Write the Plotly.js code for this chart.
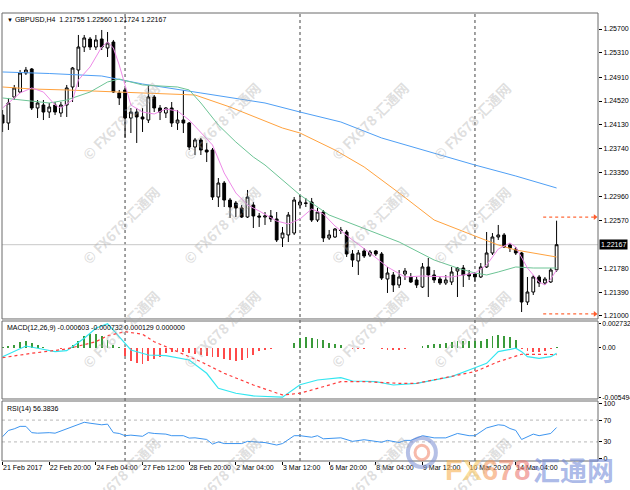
<!DOCTYPE html>
<html><head><meta charset="utf-8">
<script src="https://cdn.plot.ly/plotly-3.0.1.min.js"></script>
<style>html,body{margin:0;padding:0;background:#fff}#chart{width:630px;height:490px}</style>
</head><body><div id="chart"></div>
<script>
// ---- DATA ----
const barIndex = [-21,-20,-19,-18,-17,-16,-15,-14,-13,-12,-11,-10,-9,-8,-7,-6,-5,-4,-3,-2,-1,
  0,1,2,3,4,5,6,7,8,9,10,11,12,13,14,15,16,17,18,19,20,21,22,23,24,25,26,27,28,29,
  30,31,32,33,34,35,36,37,38,39,40,41,42,43,44,45,46,47,48,49,50,51,52,53,54,55,56,57,58,59,
  60,61,62,63,64,65,66,67,68,69,70,71,72,73,74];
const openP = [1.24291,1.24160,1.24586,1.24668,1.24979,1.25045,1.24406,1.24455,1.24340,1.24455,1.24324,1.24455,1.24750,1.25028,1.25405,1.25536,1.25405,1.25536,1.25389,1.25487,1.24652,
  1.24701,1.24242,1.24340,1.24259,1.24209,1.24586,1.24406,1.24324,1.24406,1.24160,1.24209,1.24160,1.23767,1.23882,1.23718,1.23718,1.22948,1.23177,1.22899,1.22850,1.22768,1.22620,1.22817,1.22637,1.22620,1.22637,1.22588,1.22277,1.22326,1.22358,
  1.22817,1.22850,1.22866,1.22571,1.22702,1.22277,1.22293,1.22408,1.22375,1.22015,1.21900,1.22064,1.21998,1.22064,1.22015,1.21605,1.21671,1.21507,1.21687,1.21638,1.21589,1.21474,1.21802,1.21671,1.21605,1.21540,1.21556,1.21736,1.21785,1.21687,
  1.21687,1.21638,1.21802,1.22031,1.22293,1.22326,1.22162,1.22096,1.22031,1.21228,1.21392,1.21638,1.21540,1.21556,1.21755];
const highP = [1.24373,1.24570,1.24783,1.25028,1.25078,1.25061,1.24537,1.24537,1.24488,1.24504,1.24504,1.24783,1.25078,1.25602,1.25602,1.25569,1.25602,1.25684,1.25651,1.25520,1.24701,
  1.24734,1.24406,1.24406,1.24406,1.24783,1.24619,1.24455,1.24422,1.24504,1.24373,1.24701,1.24177,1.23915,1.23915,1.23833,1.23751,1.23259,1.23210,1.22932,1.22883,1.22817,1.23063,1.22866,1.22686,1.22702,1.22735,1.22702,1.22457,1.22702,1.22948,
  1.22981,1.22932,1.22932,1.22768,1.22735,1.22408,1.22440,1.22457,1.22408,1.22080,1.22080,1.22112,1.22080,1.22080,1.22047,1.21802,1.21720,1.21752,1.21785,1.21703,1.21638,1.21867,1.21949,1.21752,1.21638,1.21671,1.21802,1.21802,1.21834,1.21752,
  1.21720,1.21867,1.22375,1.22358,1.22490,1.22358,1.22195,1.22129,1.22047,1.21638,1.21671,1.21671,1.21638,1.21785,1.22560];
const lowP = [1.24013,1.24046,1.24537,1.24652,1.24947,1.24373,1.24242,1.24209,1.24242,1.24291,1.24259,1.24259,1.24504,1.24750,1.25323,1.25356,1.25356,1.25356,1.25241,1.24652,1.24455,
  1.23915,1.23996,1.23833,1.24013,1.24160,1.24340,1.24209,1.24242,1.24095,1.24046,1.23996,1.23718,1.23636,1.23636,1.23521,1.22899,1.22784,1.22784,1.22604,1.22620,1.22604,1.22604,1.22440,1.22457,1.22490,1.22539,1.22211,1.22129,1.22211,1.22326,
  1.22768,1.22784,1.22539,1.22539,1.22211,1.22244,1.22277,1.22342,1.21966,1.21802,1.21671,1.21949,1.21966,1.21982,1.21589,1.21376,1.21392,1.21458,1.21589,1.21540,1.21458,1.21458,1.21310,1.21540,1.21507,1.21507,1.21507,1.21310,1.21474,1.21589,
  1.21556,1.21621,1.21785,1.21998,1.22244,1.22112,1.22047,1.21998,1.21064,1.21179,1.21343,1.21474,1.21507,1.21540,1.21724];
const closeP = [1.24160,1.24488,1.24734,1.24979,1.25028,1.24406,1.24488,1.24340,1.24422,1.24340,1.24455,1.24734,1.25061,1.25405,1.25553,1.25405,1.25520,1.25405,1.25471,1.24668,1.24570,
  1.24242,1.24340,1.24259,1.24226,1.24586,1.24406,1.24340,1.24406,1.24160,1.24209,1.24160,1.23767,1.23882,1.23718,1.23685,1.22948,1.23177,1.22899,1.22784,1.22768,1.22620,1.22948,1.22637,1.22620,1.22637,1.22588,1.22244,1.22358,1.22653,1.22899,
  1.22866,1.22845,1.22571,1.22702,1.22277,1.22326,1.22424,1.22400,1.22015,1.21916,1.22031,1.21982,1.22047,1.22015,1.21621,1.21703,1.21507,1.21638,1.21736,1.21556,1.21507,1.21802,1.21671,1.21589,1.21540,1.21589,1.21720,1.21785,1.21671,1.21654,
  1.21638,1.21802,1.22031,1.22293,1.22326,1.22129,1.22112,1.22031,1.21228,1.21392,1.21638,1.21540,1.21605,1.21752,1.22167];

// moving averages read at sampled bars
const maSlowIdx = [-21,-13,-4,3,13,24,30,37,44,51,60,67,74];
const maSlow    = [1.24996,1.24971,1.24930,1.24799,1.24652,1.24488,1.24340,1.24177,1.23915,1.23718,1.23472,1.23292,1.23096];
const maMidIdx  = [-21,-16,-10,-4,3,12,18,27,30,36,41,47,53,60,64,67,74];
const maMid     = [1.24750,1.24717,1.24701,1.24684,1.24652,1.24619,1.24422,1.24078,1.23996,1.23718,1.23440,1.23014,1.22571,1.22309,1.22162,1.22080,1.21965];
const maFastIdx = [-21,-18,-15,-13,-10,-6,-3,-1,1,3,9,11,13,16,19,22,24,30,35,40,47,53,57,60,62,64,67,70,74];
const maFast    = [1.24570,1.24537,1.24504,1.24488,1.24537,1.24668,1.24832,1.24881,1.24832,1.24783,1.24750,1.24701,1.24488,1.24127,1.23849,1.23603,1.23472,1.22981,1.22653,1.22473,1.22211,1.21916,1.21785,1.21703,1.21671,1.21720,1.21802,1.21785,1.21785];
const maTurboIdx = [-21,-20,-18,-16,-14,-12,-11,-9,-8,-6,-4,-3,-2,-1,0,1,3,5,7,9,11,13,15,17,19,21,23,26,28,30,32,34,36,39,42,45,48,51,56,60,62,64,66,67,69,71,72,73,74];
const maTurbo    = [1.24406,1.24488,1.24652,1.24734,1.24668,1.24455,1.24406,1.24537,1.24865,1.25078,1.25405,1.25487,1.25389,1.25110,1.24783,1.24455,1.24340,1.24308,1.24390,1.24357,1.24209,1.24013,1.23800,1.23341,1.23014,1.22817,1.22719,1.22555,1.22506,1.22588,1.22752,1.22670,1.22473,1.22244,1.22031,1.21802,1.21638,1.21654,1.21638,1.21703,1.21834,1.22096,1.22195,1.22129,1.21785,1.21556,1.21507,1.21605,1.21752];

// MACD(12,26,9)
const macdHist = [0.0001,0.00026,0.00037,0.00067,0.00082,0.00056,0.0003,0.00011,0.00003,-0.00005,-0.00008,0.00004,0.0003,0.00082,0.0013,0.00156,0.00156,0.0013,0.00093,0.00037,0.00011,
  -0.00093,-0.00141,-0.00167,-0.00179,-0.00149,-0.00123,-0.001,-0.00056,-0.00045,-0.00037,-0.00045,-0.00056,-0.00067,-0.00082,-0.00093,-0.001,-0.00104,-0.00119,-0.0013,-0.00141,-0.0013,-0.00112,-0.00074,-0.00037,-0.00019,-0.00007,-0.00004,-0.00003,0.00002,0.00056,
  0.00112,0.00119,0.00112,0.00104,0.00093,0.00056,0.00048,0.0003,0.00005,-0.00007,-0.00008,-0.0001,-0.00003,-0.00005,-0.00011,-0.00019,-0.00022,-0.00019,-0.00008,-0.00004,0.00003,0.00026,0.00037,0.00045,0.00048,0.00056,0.00067,0.00074,0.00082,0.00074,
  0.00074,0.00082,0.00104,0.0013,0.00141,0.0013,0.00119,0.00093,-0.00007,-0.0003,-0.00045,-0.00045,-0.0003,-0.00015,0.000129];
const macdIdx  = [-21,-17,-15,-12,-10,-7,-5,-3,-2,0,1,4,7,11,14,16,19,22,27,30,33,37,39,43,46,50,53,56,60,62,64,67,68,69,71,73,74];
const macdLine = [-0.00097,0.00022,-0.00003,-0.00041,-0.0003,0.00108,0.0022,0.0027,0.002,0.00052,-0.00022,-0.00078,-0.00086,-0.00134,-0.00282,-0.0045,-0.00505,-0.00535,-0.00549,-0.0041,-0.00357,-0.00331,-0.00368,-0.00376,-0.00413,-0.00394,-0.00357,-0.0032,-0.0022,-0.00171,-0.00041,-0.00003,-0.00041,-0.00097,-0.00115,-0.00097,-0.000603];
const sigIdx   = [-21,-16,-10,-5,-3,0,3,5,9,13,17,22,27,30,33,37,41,47,50,53,56,60,64,68,74];
const sigLine  = [-0.00108,-0.00059,-0.00011,0.0007,0.00137,0.00182,0.00153,0.0007,-0.00041,-0.00153,-0.00282,-0.00413,-0.00524,-0.00505,-0.0045,-0.00376,-0.00376,-0.00394,-0.00394,-0.00357,-0.0032,-0.00264,-0.00153,-0.0007,-0.000732];

// RSI(14)
const rsiIdx = [-21,-20,-19,-18,-17,-16,-15,-13,-12,-10,-8,-7,-6,-5,-4,-3,-2,-1,0,1,3,4,5,7,8,10,11,12,14,15,16,17,20,21,23,24,26,27,29,30,32,33,34,37,39,41,44,45,47,48,49,51,53,55,57,59,60,62,64,65,66,67,68,70,71,73,74];
const rsiVal = [39.6,51,54,58.5,58.5,47,46,47,46,54,61.4,66,64.3,63,61.4,62.6,47,45.5,41.4,42.4,40.3,47,45.5,44.3,41.4,41.4,37,37.5,34.5,26,30,27,27,31,30,28.8,24.3,27,41.4,41.4,38.6,41.4,35.7,37.5,31,34,29.4,32.8,28.8,32.8,32.8,41.4,37.4,37.4,45.5,41.4,41.4,55.7,61.4,60.3,54.6,51.1,34.5,44.3,41.4,45.5,56.38];

// axes labels
const priceTicks = [1.25700,1.25310,1.24910,1.24520,1.24130,1.23740,1.23350,1.22960,1.22570,1.21780,1.21390,1.21000];
const macdTicks = [0.002732,0,-0.005494];
const macdTickText = ['0.002732','0.00','-0.005494'];
const rsiTicks = [0,30,70,100];
const rsiLevels = [30,70];
const labelIdx = [-21,-13,-5,3,11,19,27,35,43,51,59,67];
const labelText = ['21 Feb 2017','22 Feb 20:00','24 Feb 04:00','27 Feb 12:00','28 Feb 20:00','2 Mar 04:00','3 Mar 12:00','6 Mar 20:00','8 Mar 04:00','9 Mar 12:00','10 Mar 20:00','14 Mar 04:00'];
const weekSepIdx = [0,30,60];
const levelPrices = [1.22620,1.21033];
const levelStart = 71.7, levelEnd = 80.6;
const titleText = 'GBPUSD,H4  1.21755 1.22560 1.21724 1.22167';
const macdLabel = 'MACD(12,26,9) -0.000603 -0.000732 0.000129 0.000000';
const rsiLabel = 'RSI(14) 56.3836';

// ---- CHART ----
const FONT = 'Liberation Sans, Arial, sans-serif';
const dMain = [0.317, 1], dMacd = [0.1384, 0.3125], dRsi = [0, 0.1339];
const lastClose = closeP[closeP.length-1];

const traces = [
  {type:'scatter', mode:'lines', x:maSlowIdx, y:maSlow, line:{color:'#4f9ff5', width:1}, xaxis:'x', yaxis:'y', hoverinfo:'skip'},
  {type:'scatter', mode:'lines', x:maMidIdx, y:maMid, line:{color:'#ffa23e', width:1}, xaxis:'x', yaxis:'y', hoverinfo:'skip'},
  {type:'scatter', mode:'lines', x:maFastIdx, y:maFast, line:{color:'#6cc495', width:1}, xaxis:'x', yaxis:'y', hoverinfo:'skip'},
  {type:'scatter', mode:'lines', x:maTurboIdx, y:maTurbo, line:{color:'#ee8ae8', width:1}, xaxis:'x', yaxis:'y', hoverinfo:'skip'},
  {type:'candlestick', x:barIndex, open:openP, high:highP, low:lowP, close:closeP, xaxis:'x', yaxis:'y',
    increasing:{line:{color:'#000', width:1}, fillcolor:'#ffffff'},
    decreasing:{line:{color:'#000', width:1}, fillcolor:'#000000'}, whiskerwidth:0, hoverinfo:'skip'},
  {type:'scatter', mode:'markers', x:[levelEnd, levelEnd], y:levelPrices, marker:{symbol:'triangle-right', size:5, color:'#ff5a2a'}, xaxis:'x', yaxis:'y', hoverinfo:'skip'},
  {type:'bar', x:barIndex, y:macdHist, width:0.32, marker:{color:macdHist.map(v => v >= 0 ? '#3a9a3a' : '#ff4a4a'), line:{width:0}}, xaxis:'x', yaxis:'y2', hoverinfo:'skip'},
  {type:'scatter', mode:'lines', x:macdIdx, y:macdLine, line:{color:'#33e6f0', width:1.2}, xaxis:'x', yaxis:'y2', hoverinfo:'skip'},
  {type:'scatter', mode:'lines', x:sigIdx, y:sigLine, line:{color:'#ff3b3b', width:1.2, dash:'dot'}, xaxis:'x', yaxis:'y2', hoverinfo:'skip'},
  {type:'scatter', mode:'lines', x:rsiIdx, y:rsiVal, line:{color:'#3d95f0', width:1}, xaxis:'x', yaxis:'y3', hoverinfo:'skip'}
];

const shapes = [];
[dMain, dMacd, dRsi].forEach(d => shapes.push({type:'rect', xref:'paper', yref:'paper', x0:0, x1:1, y0:d[0], y1:d[1], line:{color:'#6a6a6a', width:1}, layer:'above'}));
weekSepIdx.forEach(s => shapes.push({type:'line', xref:'x', yref:'paper', x0:s, x1:s, y0:0, y1:1, line:{color:'#7a7a7a', width:1.4, dash:'dot'}, layer:'below'}));
shapes.push({type:'line', xref:'paper', yref:'y', x0:0, x1:1, y0:lastClose, y1:lastClose, line:{color:'#c8c8c8', width:1}, layer:'below'});
levelPrices.forEach(p => shapes.push({type:'line', xref:'x', yref:'y', x0:levelStart, x1:levelEnd, y0:p, y1:p, line:{color:'#ff6a3a', width:1.2, dash:'dot'}}));
rsiLevels.forEach(l => shapes.push({type:'line', xref:'paper', yref:'y3', x0:0, x1:1, y0:l, y1:l, line:{color:'#b8b8b8', width:1, dash:'dot'}, layer:'below'}));

const annotations = [
  {xref:'paper', yref:'paper', x:0.005, y:0.9866, xanchor:'left', yanchor:'middle', showarrow:false,
   text:'<span style="font-size:6px">▼</span> ' + titleText, font:{family:FONT, size:7, color:'#000'}},
  {xref:'paper', yref:'paper', x:0.005, y:0.2969, xanchor:'left', yanchor:'middle', showarrow:false,
   text:macdLabel, font:{family:FONT, size:7, color:'#000'}},
  {xref:'paper', yref:'paper', x:0.005, y:0.1167, xanchor:'left', yanchor:'middle', showarrow:false,
   text:rsiLabel, font:{family:FONT, size:7, color:'#000'}},
  {xref:'paper', yref:'y', x:1, y:lastClose, xanchor:'left', yanchor:'middle', xshift:1, showarrow:false,
   text:lastClose.toFixed(5), bgcolor:'#000', borderpad:1, font:{family:FONT, size:7, color:'#fff'}}
];
// watermarks
const wmX = [0.1225, 0.369, 0.617, 0.866];
const wmY = [0.8616, 0.5268, 0.192, -0.135];
wmY.forEach(y => wmX.forEach(x => annotations.push({xref:'paper', yref:'paper', x:x, y:y, showarrow:false, textangle:-45,
  text:'<b>© FX678 汇通网</b>', font:{family:'Noto Sans CJK SC, Liberation Sans, sans-serif', size:14, color:'rgba(170,170,170,0.38)'}})));
// big logo
annotations.push({xref:'paper', yref:'paper', x:0.74, y:-0.02, xanchor:'left', yanchor:'middle', showarrow:false,
  text:'<b><span style="color:rgba(247,176,80,0.62)">F</span><span style="color:rgba(250,200,100,0.62)">X</span><span style="color:rgba(245,155,95,0.62)">6</span><span style="color:rgba(240,135,105,0.62)">7</span><span style="color:rgba(236,120,115,0.62)">8</span></b>',
  font:{family:FONT, size:29}});
annotations.push({xref:'paper', yref:'paper', x:0.888, y:-0.02, xanchor:'left', yanchor:'middle', showarrow:false,
  text:'<b>汇通网</b>', font:{family:'Noto Sans CJK SC, sans-serif', size:27, color:'rgba(110,135,215,0.58)'}});
shapes.push({type:'circle', xref:'paper', yref:'paper', x0:0.681, x1:0.728, y0:-0.0134, y1:0.0513, line:{color:'rgba(120,140,210,0.55)', width:4}});
shapes.push({type:'circle', xref:'paper', yref:'paper', x0:0.693, x1:0.716, y0:0.003, y1:0.035, line:{color:'rgba(240,130,100,0.55)', width:3}});

const layout = {
  width:630, height:490, margin:{l:2, r:32, t:13, b:29},
  paper_bgcolor:'#fff', plot_bgcolor:'#fff', showlegend:false, dragmode:false,
  font:{family:FONT, size:7, color:'#000'},
  boxgap:0.32,
  xaxis:{range:[-21.1, 81.1], anchor:'y3', tickvals:labelIdx, ticktext:labelText, ticks:'outside', ticklen:3, tickcolor:'#000',
         tickangle:0, ticklabelposition:'outside right', tickfont:{family:FONT, size:7}, showgrid:false, zeroline:false, showline:false,
         rangeslider:{visible:false}, fixedrange:true},
  yaxis:{domain:dMain, range:[1.2095, 1.25962], side:'right', anchor:'x', tickvals:priceTicks, tickformat:'.5f', ticks:'outside', ticklen:3,
         tickcolor:'#000', tickfont:{family:FONT, size:7}, showgrid:false, zeroline:false, fixedrange:true},
  yaxis2:{domain:dMacd, range:[-0.00569, 0.00301], side:'right', anchor:'x', tickvals:macdTicks, ticktext:macdTickText, ticks:'outside', ticklen:2,
         tickcolor:'#000', tickfont:{family:FONT, size:6.8}, showgrid:false, zeroline:false, fixedrange:true},
  yaxis3:{domain:dRsi, range:[-5, 105], side:'right', anchor:'x', tickvals:rsiTicks, ticks:'outside', ticklen:3,
         tickcolor:'#000', tickfont:{family:FONT, size:7}, showgrid:false, zeroline:false, fixedrange:true},
  shapes:shapes, annotations:annotations, bargap:0
};
Plotly.newPlot('chart', traces, layout, {displayModeBar:false, staticPlot:true});
</script></body></html>
